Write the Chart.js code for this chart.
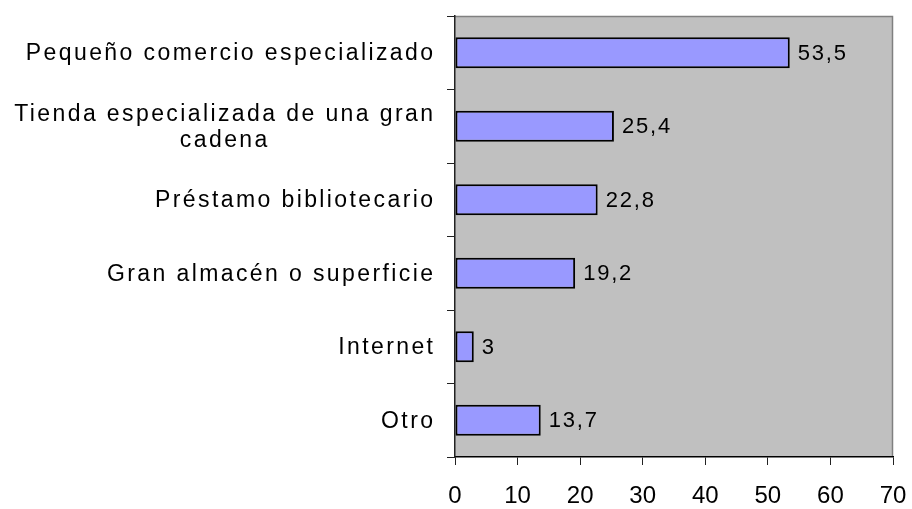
<!DOCTYPE html>
<html>
<head>
<meta charset="utf-8">
<script src="https://cdn.jsdelivr.net/npm/chart.js@4.4.1/dist/chart.umd.min.js"></script>
<style>
  html, body { margin: 0; padding: 0; background: #ffffff; }
  canvas { display: block; }
</style>
</head>
<body>
<canvas id="c" width="912" height="509"></canvas>
<script>
const categories = [
  ["Pequeño comercio especializado"],
  ["Tienda especializada de una gran", "cadena"],
  ["Préstamo bibliotecario"],
  ["Gran almacén o superficie"],
  ["Internet"],
  ["Otro"]
];
const values = [53.5, 25.4, 22.8, 19.2, 3, 13.7];
const xMin = 0;
const xMax = 70;
const xStep = 10;

const FONT = "'Liberation Sans', Arial, sans-serif";
const LABEL_SPACING = 2.4;

const plotBackground = {
  id: 'plotBackground',
  beforeDraw(chart) {
    const { ctx, chartArea: a } = chart;
    ctx.save();
    ctx.fillStyle = '#C0C0C0';
    ctx.fillRect(a.left, a.top, a.right - a.left, a.bottom - a.top);
    ctx.strokeStyle = '#808080';
    ctx.lineWidth = 1.5;
    ctx.beginPath();
    ctx.moveTo(a.left, a.top + 0.5);
    ctx.lineTo(a.right - 0.5, a.top + 0.5);
    ctx.lineTo(a.right - 0.5, a.bottom);
    ctx.stroke();
    ctx.restore();
  }
};

const textPlugin = {
  id: 'textPlugin',
  afterDraw(chart) {
    const { ctx, chartArea: a } = chart;
    const yScale = chart.scales.y;
    ctx.save();
    // category labels
    ctx.font = '23px ' + FONT;
    ctx.letterSpacing = LABEL_SPACING + 'px';
    ctx.fillStyle = '#000';
    ctx.textBaseline = 'middle';
    ctx.textAlign = 'left';
    const rightEdge = a.left - 22 + LABEL_SPACING;
    const lineH = 26;
    chart.data.labels.forEach((lab, i) => {
      const lines = Array.isArray(lab) ? lab : [lab];
      const widths = lines.map(l => ctx.measureText(l).width);
      const maxW = Math.max(...widths);
      const cy = yScale.getPixelForTick(i) + 1;
      const y0 = cy - (lines.length - 1) * lineH / 2;
      lines.forEach((l, k) => {
        const x = rightEdge - maxW + (maxW - widths[k]) / 2;
        ctx.fillText(l, x, y0 + k * lineH);
      });
    });
    // value labels
    ctx.font = '22px ' + FONT;
    ctx.letterSpacing = '1.8px';
    const meta = chart.getDatasetMeta(0);
    meta.data.forEach((el, i) => {
      const txt = String(chart.data.datasets[0].data[i]).replace('.', ',');
      ctx.fillText(txt, el.x + 8, el.y + 1);
    });
    ctx.restore();
  }
};

new Chart(document.getElementById('c'), {
  type: 'bar',
  data: {
    labels: categories,
    datasets: [{
      data: values,
      backgroundColor: '#9999FF',
      borderColor: '#000000',
      borderWidth: 2,
      borderSkipped: false,
      barPercentage: 0.42,
      categoryPercentage: 1
    }]
  },
  options: {
    indexAxis: 'y',
    responsive: false,
    animation: false,
    layout: { padding: { top: 16, right: 19, left: 0, bottom: 0 } },
    plugins: { legend: { display: false }, tooltip: { enabled: false } },
    scales: {
      x: {
        min: xMin,
        max: xMax,
        ticks: { stepSize: xStep, color: '#000', font: { family: FONT, size: 24 }, padding: 17, maxRotation: 0 },
        grid: { drawOnChartArea: false, drawTicks: true, tickLength: 8, color: '#222', lineWidth: 1 },
        border: { color: '#000', width: 1.5 },
        afterFit(s) { s.height = 52; s.paddingLeft = 0; s.paddingRight = 0; }
      },
      y: {
        ticks: { color: 'rgba(0,0,0,0)', font: { family: FONT, size: 22 } },
        grid: { drawOnChartArea: false, drawTicks: true, tickLength: 8, color: '#222', lineWidth: 1, offset: true },
        border: { color: '#222', width: 1.5 },
        afterFit(s) { s.width = 455; s.paddingTop = 0; s.paddingBottom = 0; }
      }
    }
  },
  plugins: [plotBackground, textPlugin]
});
</script>
</body>
</html>
